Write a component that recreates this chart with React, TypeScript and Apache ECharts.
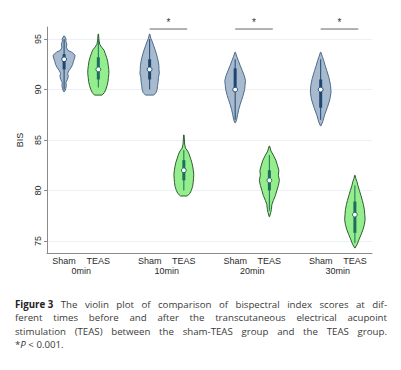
import React, { useEffect, useRef } from 'react';
import * as echarts from 'echarts';

// ---------- data ----------
const timePoints = ['0min', '10min', '20min', '30min'];
const arms = ['Sham', 'TEAS'];
const yTicks = [75, 80, 85, 90, 95];
const significantTimes = ['10min', '20min', '30min'];
const sigMark = '*';
const sigLevel = 96.0;

// violin profiles: [BIS value, relative density], bottom to top
const sham0min = [[89.8, 0.05], [90.1, 0.15], [90.4, 0.2], [90.7, 0.17], [91.0, 0.3], [91.3, 0.38], [91.6, 0.32], [91.9, 0.45], [92.2, 0.65], [92.5, 0.78], [92.8, 0.85], [93.1, 0.95], [93.4, 1.0], [93.7, 0.7], [93.9, 0.32], [94.2, 0.2], [94.5, 0.25], [94.8, 0.15], [95.0, 0.18], [95.3, 0.04]];
const teas0min = [[89.45, 0.34], [89.7, 0.55], [90.0, 0.68], [90.4, 0.8], [90.8, 0.88], [91.2, 0.92], [91.6, 0.96], [92.0, 0.95], [92.4, 0.9], [92.8, 0.85], [93.2, 0.75], [93.6, 0.62], [93.9, 0.52], [94.2, 0.3], [94.5, 0.12], [94.9, 0.06], [95.5, 0.02]];
const sham10min = [[89.45, 0.38], [89.7, 0.58], [90.0, 0.68], [90.4, 0.72], [90.8, 0.78], [91.2, 0.8], [91.6, 0.88], [92.0, 0.85], [92.4, 0.84], [92.8, 0.78], [93.2, 0.7], [93.6, 0.6], [94.0, 0.48], [94.4, 0.35], [94.8, 0.22], [95.1, 0.1], [95.5, 0.02]];
const teas10min = [[79.45, 0.3], [79.7, 0.55], [80.0, 0.68], [80.4, 0.8], [80.8, 0.85], [81.2, 0.88], [81.6, 0.9], [82.0, 0.86], [82.4, 0.8], [82.8, 0.72], [83.2, 0.6], [83.6, 0.48], [83.9, 0.35], [84.2, 0.15], [84.6, 0.07], [85.0, 0.05], [85.5, 0.02]];
const sham20min = [[86.7, 0.02], [87.0, 0.13], [87.5, 0.22], [88.0, 0.32], [88.5, 0.45], [89.0, 0.6], [89.4, 0.72], [90.0, 0.86], [90.4, 0.9], [90.9, 0.94], [91.4, 0.82], [91.9, 0.64], [92.4, 0.45], [92.9, 0.28], [93.3, 0.14], [93.7, 0.02]];
const teas20min = [[77.4, 0.02], [77.8, 0.12], [78.1, 0.18], [78.6, 0.23], [79.0, 0.36], [79.5, 0.55], [80.0, 0.68], [80.5, 0.82], [81.0, 0.91], [81.5, 0.82], [82.0, 0.86], [82.5, 0.73], [83.0, 0.59], [83.5, 0.36], [83.9, 0.15], [84.4, 0.02]];
const sham30min = [[86.4, 0.02], [86.8, 0.18], [87.5, 0.36], [88.2, 0.6], [88.96, 0.82], [89.7, 0.94], [90.4, 0.9], [91.1, 0.77], [91.9, 0.55], [92.4, 0.4], [92.9, 0.27], [93.3, 0.14], [93.7, 0.02]];
const teas30min = [[74.3, 0.02], [74.7, 0.22], [75.1, 0.36], [75.6, 0.55], [76.1, 0.73], [76.6, 0.86], [77.1, 0.93], [77.6, 0.9], [78.1, 0.86], [78.6, 0.77], [79.0, 0.68], [79.5, 0.55], [80.0, 0.41], [80.5, 0.27], [80.9, 0.18], [81.2, 0.08], [81.5, 0.02]];

// box stats: [lower whisker, Q1, median, Q3, upper whisker]
const shamBox0 = [90, 92, 93, 93.5, 95];
const teasBox0 = [90.2, 91, 92, 93.2, 95];
const shamBox10 = [90, 91, 92, 93, 95];
const teasBox10 = [80, 81, 82, 83, 84];
const shamBox20 = [87, 90, 90, 92.1, 93];
const teasBox20 = [78, 80, 81, 82, 83.5];
const shamBox30 = [87, 88.2, 90, 91, 93];
const teasBox30 = [74.8, 75.8, 77.6, 78.9, 80.5];

const shamProfiles = [sham0min, sham10min, sham20min, sham30min];
const teasProfiles = [teas0min, teas10min, teas20min, teas30min];
const shamBoxes = [shamBox0, shamBox10, shamBox20, shamBox30];
const teasBoxes = [teasBox0, teasBox10, teasBox20, teasBox30];

const captionLines = [
  ['Figure 3', 'The violin plot of comparison of bispectral index scores at dif-'],
  ['', 'ferent times before and after the transcutaneous electrical acupoint'],
  ['', 'stimulation (TEAS) between the sham-TEAS group and the TEAS group.'],
];

// ---------- layout / style ----------
const GROUP_STEP = 2.5;
const posOf = (g: number, a: number) => g * GROUP_STEP + a + 1;
const MAXW = 11;
const AXIS_FONT = 'Liberation Sans';
const AXIS_SIZE = 9;
const CAP_FONT = 'Open Sans';
const styles = [
  { fill: '#a8bacd', stroke: '#4d6c8e', box: '#1e4673' },
  { fill: '#94ee8d', stroke: '#2e5c30', box: '#1f6d5a' },
];

function violinRender(armIdx: number, profiles: number[][][], boxes: number[][]) {
  return (params: any, api: any) => {
    const g = params.dataIndex;
    const pos = posOf(g, armIdx);
    const prof = profiles[g];
    const st = styles[armIdx];
    const right = prof.map(([v, d]) => {
      const c = api.coord([pos, v]);
      return [c[0] + d * MAXW, c[1]];
    });
    const left = prof
      .slice()
      .reverse()
      .map(([v, d]) => {
        const c = api.coord([pos, v]);
        return [c[0] - d * MAXW, c[1]];
      });
    const b = boxes[g];
    const lo = api.coord([pos, b[0]]);
    const q1 = api.coord([pos, b[1]]);
    const md = api.coord([pos, b[2]]);
    const q3 = api.coord([pos, b[3]]);
    const hi = api.coord([pos, b[4]]);
    return {
      type: 'group',
      children: [
        {
          type: 'polygon',
          shape: { points: right.concat(left) },
          style: { fill: st.fill, stroke: st.stroke, lineWidth: 1 },
        },
        {
          type: 'line',
          shape: { x1: lo[0], y1: lo[1], x2: hi[0], y2: hi[1] },
          style: { stroke: st.box, lineWidth: 1 },
        },
        {
          type: 'line',
          shape: { x1: q1[0], y1: q1[1], x2: q3[0], y2: q3[1] },
          style: { stroke: st.box, lineWidth: 3 },
        },
        {
          type: 'circle',
          shape: { cx: md[0], cy: md[1], r: 2.4 },
          style: { fill: '#ffffff', stroke: st.box, lineWidth: 1 },
        },
      ],
    };
  };
}

function buildCaption(): any[] {
  const ctx = document.createElement('canvas').getContext('2d') as CanvasRenderingContext2D;
  const size = 9.7;
  const x0 = 15;
  const x1 = 387;
  const lineY = [304, 317.6, 331.2];
  const color = '#3a3a3a';
  const els: any[] = [];
  captionLines.forEach((ln, li) => {
    const words: { t: string; bold: boolean }[] = [];
    if (ln[0]) words.push({ t: ln[0], bold: true });
    ln[1].split(' ').forEach((w) => words.push({ t: w, bold: false }));
    const widths = words.map((w) => {
      ctx.font = `${w.bold ? 'bold ' : ''}${size}px "${CAP_FONT}"`;
      return ctx.measureText(w.t).width;
    });
    const total = widths.reduce((s, v) => s + v, 0);
    const gap = (x1 - x0 - total) / (words.length - 1);
    let x = x0;
    words.forEach((w, i) => {
      els.push({
        type: 'text',
        x,
        y: lineY[li],
        style: {
          text: w.t,
          fontFamily: CAP_FONT,
          fontSize: size,
          fontWeight: w.bold ? 'bold' : 'normal',
          fill: w.bold ? '#222222' : color,
          verticalAlign: 'middle',
          align: 'left',
        },
      });
      x += widths[i] + gap;
    });
  });
  els.push({
    type: 'text',
    x: x0,
    y: 344.8,
    style: {
      text: '{n|*}{i|P}{n| < 0.001.}',
      verticalAlign: 'middle',
      rich: {
        n: { fontFamily: CAP_FONT, fontSize: size, fill: color },
        i: { fontFamily: CAP_FONT, fontSize: size, fontStyle: 'italic', fill: color },
      },
    },
  });
  return els;
}

export default function App() {
  const ref = useRef<HTMLDivElement>(null);
  useEffect(() => {
    if (!ref.current) return;
    const chart = echarts.init(ref.current, null, { renderer: 'svg' });
    const armPositions: number[] = [];
    timePoints.forEach((_, g) => arms.forEach((_, a) => armPositions.push(posOf(g, a))));
    const groupCenters = timePoints.map((_, g) => (posOf(g, 0) + posOf(g, 1)) / 2);
    const xMin = 0.5;
    const xMax = posOf(timePoints.length - 1, 1) + 0.5;
    const findIdx = (arr: number[], v: number) => arr.findIndex((p) => Math.abs(p - v) < 1e-6);

    chart.setOption({
      animation: false,
      backgroundColor: '#ffffff',
      grid: { left: 47, right: 29, top: 27, bottom: 117, containLabel: false, outerBoundsMode: 'none' },
      xAxis: [
        {
          type: 'value',
          min: xMin,
          max: xMax,
          axisLine: { show: true, lineStyle: { color: '#8a8a8a', width: 1 } },
          axisTick: { show: false },
          splitLine: { show: false },
          axisLabel: {
            customValues: armPositions,
            formatter: (v: number) => arms[findIdx(armPositions, v) % 2],
            fontFamily: AXIS_FONT,
            fontSize: AXIS_SIZE,
            color: '#2a2a2a',
            margin: 3,
          },
        },
        {
          type: 'value',
          min: xMin,
          max: xMax,
          position: 'bottom',
          offset: 10,
          axisLine: { show: false },
          axisTick: { show: false },
          splitLine: { show: false },
          axisLabel: {
            customValues: groupCenters,
            formatter: (v: number) => timePoints[findIdx(groupCenters, v)],
            fontFamily: AXIS_FONT,
            fontSize: AXIS_SIZE,
            color: '#2a2a2a',
            margin: 3,
          },
        },
      ],
      yAxis: {
        type: 'value',
        min: 73.8,
        max: 96.2,
        name: 'BIS',
        nameLocation: 'middle',
        nameGap: 23,
        nameRotate: 90,
        nameTextStyle: { fontFamily: AXIS_FONT, fontSize: AXIS_SIZE, color: '#2a2a2a' },
        axisLine: { show: true, lineStyle: { color: '#8a8a8a', width: 1 } },
        axisTick: { show: true, length: 3, customValues: yTicks, lineStyle: { color: '#8a8a8a' } },
        splitLine: { show: true, lineStyle: { color: '#edf1f5', width: 1 } },
        axisLabel: {
          customValues: yTicks,
          rotate: 90,
          margin: 5,
          fontFamily: AXIS_FONT,
          fontSize: AXIS_SIZE,
          color: '#2a2a2a',
        },
      },
      series: [
        {
          type: 'custom',
          name: arms[0],
          xAxisIndex: 0,
          renderItem: violinRender(0, shamProfiles, shamBoxes),
          data: timePoints.map((_, g) => [posOf(g, 0), shamBoxes[g][2]]),
          clip: false,
        },
        {
          type: 'custom',
          name: arms[1],
          xAxisIndex: 0,
          renderItem: violinRender(1, teasProfiles, teasBoxes),
          data: timePoints.map((_, g) => [posOf(g, 1), teasBoxes[g][2]]),
          clip: false,
        },
        {
          type: 'custom',
          xAxisIndex: 0,
          clip: false,
          data: significantTimes.map((t) => [timePoints.indexOf(t), sigLevel]),
          renderItem: (params: any, api: any) => {
            const g = api.value(0);
            const p0 = api.coord([posOf(g, 0), api.value(1)]);
            const p1 = api.coord([posOf(g, 1) + 0.1, api.value(1)]);
            return {
              type: 'group',
              children: [
                {
                  type: 'line',
                  shape: { x1: p0[0], y1: p0[1], x2: p1[0], y2: p1[1] },
                  style: { stroke: '#666666', lineWidth: 1 },
                },
                {
                  type: 'text',
                  style: {
                    text: sigMark,
                    x: (p0[0] + p1[0]) / 2,
                    y: p0[1] - 2,
                    align: 'center',
                    verticalAlign: 'bottom',
                    fontFamily: AXIS_FONT,
                    fontSize: 10,
                    fill: '#333333',
                  },
                },
              ],
            };
          },
        },
      ],
      graphic: buildCaption(),
    });
    return () => chart.dispose();
  }, []);
  return (
    <div
      ref={ref}
      style={{ position: 'fixed', left: 0, top: 0, width: 401, height: 370, background: '#fff' }}
    />
  );
}
